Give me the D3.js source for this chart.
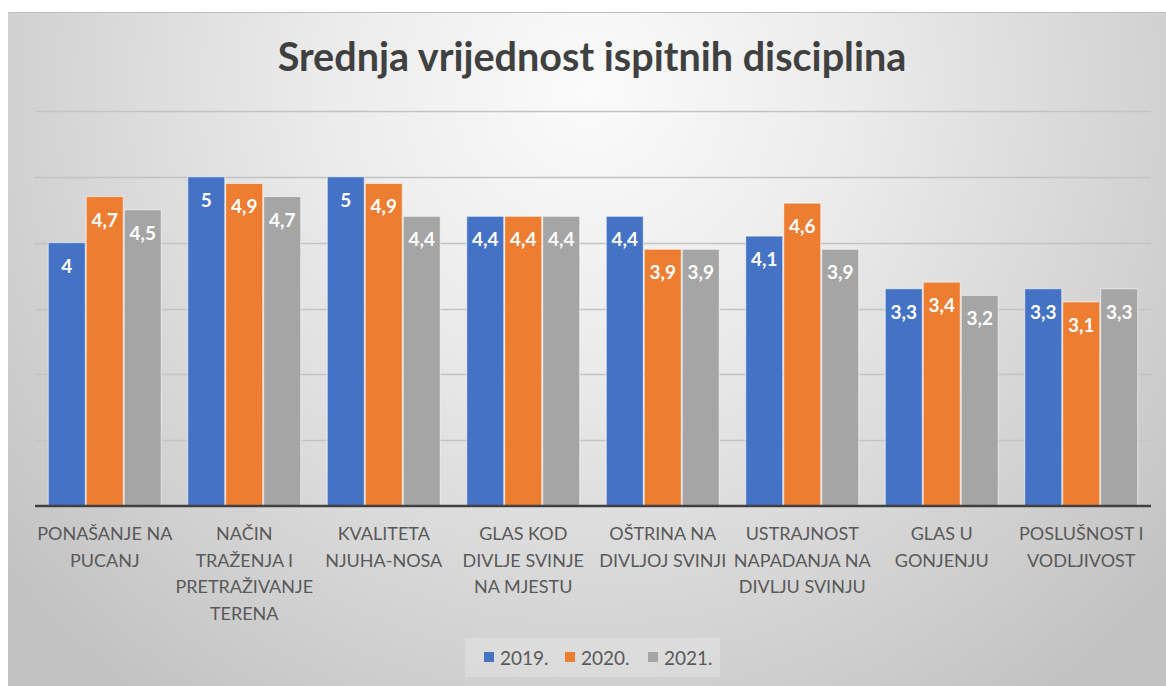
<!DOCTYPE html>
<html>
<head>
<meta charset="utf-8">
<script src="https://cdn.jsdelivr.net/npm/d3@7"></script>
<style>
  body { margin: 0; background: #fff; }
  svg { display: block; }
  text { font-family: Lato, "Open Sans", sans-serif; }
</style>
</head>
<body>
<svg id="chart"></svg>
<script>
// chart data
var categories = [
  ["PONAŠANJE NA", "PUCANJ"],
  ["NAČIN", "TRAŽENJA I", "PRETRAŽIVANJE", "TERENA"],
  ["KVALITETA", "NJUHA-NOSA"],
  ["GLAS KOD", "DIVLJE SVINJE", "NA MJESTU"],
  ["OŠTRINA NA", "DIVLJOJ SVINJI"],
  ["USTRAJNOST", "NAPADANJA NA", "DIVLJU SVINJU"],
  ["GLAS U", "GONJENJU"],
  ["POSLUŠNOST I", "VODLJIVOST"]
];
var years = ["2019.", "2020.", "2021."];
var v2019 = [4, 5, 5, 4.4, 4.4, 4.1, 3.3, 3.3];
var v2020 = [4.7, 4.9, 4.9, 4.4, 3.9, 4.6, 3.4, 3.1];
var v2021 = [4.5, 4.7, 4.4, 4.4, 3.9, 3.9, 3.2, 3.3];
var yTicks = [0, 1, 2, 3, 4, 5, 6];
var colors = ["#4472C4", "#ED7D31", "#A5A5A5"];
var title = "Srednja vrijednost ispitnih disciplina";

var W = 1166, H = 686;
var series = [v2019, v2020, v2021];

var svg = d3.select("#chart").attr("width", W).attr("height", H);

// background gradient (excel style)
var defs = svg.append("defs");
var grad = defs.append("radialGradient")
    .attr("id", "bg")
    .attr("gradientUnits", "userSpaceOnUse")
    .attr("cx", 590).attr("cy", 90).attr("r", 760);
grad.append("stop").attr("offset", "0").attr("stop-color", "#fbfbfb");
grad.append("stop").attr("offset", "0.35").attr("stop-color", "#ebebeb");
grad.append("stop").attr("offset", "1").attr("stop-color", "#c2c2c2");

svg.append("rect")
    .attr("x", 8).attr("y", 12)
    .attr("width", W - 8).attr("height", H - 12)
    .attr("fill", "url(#bg)");
svg.append("line")
    .attr("x1", 8).attr("x2", W).attr("y1", 12.5).attr("y2", 12.5)
    .attr("stroke", "#bdbdbd");

var plot = {left: 35, right: 1151, top: 111, bottom: 506};

var x0 = d3.scaleBand()
    .domain(d3.range(categories.length))
    .range([plot.left, plot.right])
    .paddingInner(0.183)
    .paddingOuter(0.0915);
var x1 = d3.scaleBand()
    .domain(d3.range(years.length))
    .range([0, x0.bandwidth()]);
var y = d3.scaleLinear().domain([0, 6]).range([plot.bottom, plot.top]);

// gridlines
svg.append("g")
    .selectAll("line")
    .data(yTicks.slice(1))
    .enter().append("line")
    .attr("x1", plot.left).attr("x2", plot.right)
    .attr("y1", function(d) { return Math.round(y(d)) + 0.5; })
    .attr("y2", function(d) { return Math.round(y(d)) + 0.5; })
    .attr("stroke", "#c3c3c3")
    .attr("stroke-width", 1.3);

// bars
var groups = svg.append("g").selectAll("g")
    .data(categories)
    .enter().append("g")
    .attr("transform", function(d, i) { return "translate(" + x0(i) + ",0)"; });

groups.each(function(c, i) {
  var g = d3.select(this);
  series.forEach(function(s, k) {
    g.append("rect")
      .attr("x", x1(k) + 0.5)
      .attr("y", y(s[i]))
      .attr("width", x1.bandwidth() - 1)
      .attr("height", y(0) - y(s[i]))
      .attr("fill", colors[k])
      .attr("stroke", "rgba(255,255,255,0.6)")
      .attr("stroke-width", 1);
    g.append("text")
      .attr("x", x1(k) + x1.bandwidth() / 2)
      .attr("y", y(s[i]) + 30)
      .attr("text-anchor", "middle")
      .attr("fill", "#fff")
      .attr("font-weight", "bold")
      .attr("font-size", 19)
      .text(String(s[i]).replace(".", ","));
  });
});

// x axis baseline
svg.append("line")
    .attr("x1", plot.left).attr("x2", plot.right)
    .attr("y1", plot.bottom).attr("y2", plot.bottom)
    .attr("stroke", "#404040")
    .attr("stroke-width", 2.5);

// category labels
var labels = svg.append("g").selectAll("text")
    .data(categories)
    .enter().append("text")
    .attr("text-anchor", "middle")
    .attr("fill", "#595959")
    .attr("font-size", 18);
labels.each(function(lines, i) {
  var t = d3.select(this);
  lines.forEach(function(l, j) {
    t.append("tspan")
      .attr("x", x0(i) + x0.bandwidth() / 2)
      .attr("y", 540 + j * 26.5)
      .text(l);
  });
});

// title
var tt = svg.append("text")
    .attr("x", 592)
    .attr("y", 71)
    .attr("text-anchor", "middle")
    .attr("fill", "#404040")
    .attr("font-weight", "bold")
    .attr("font-size", 36)
    .text(title);
var tw = tt.node().getComputedTextLength();
tt.attr("font-size", 36 * 629 / tw);

// legend
svg.append("rect")
    .attr("x", 465).attr("y", 638)
    .attr("width", 255).attr("height", 39)
    .attr("fill", "rgba(255,255,255,0.22)");
var legX = [484, 565, 648];
var leg = svg.append("g").selectAll("g")
    .data(years)
    .enter().append("g")
    .attr("transform", function(d, i) { return "translate(" + legX[i] + ",652)"; });
leg.append("rect")
    .attr("width", 10).attr("height", 10)
    .attr("fill", function(d, i) { return colors[i]; });
leg.append("text")
    .attr("x", 16).attr("y", 13)
    .attr("fill", "#595959")
    .attr("font-size", 19)
    .text(function(d) { return d; });
</script>
</body>
</html>
